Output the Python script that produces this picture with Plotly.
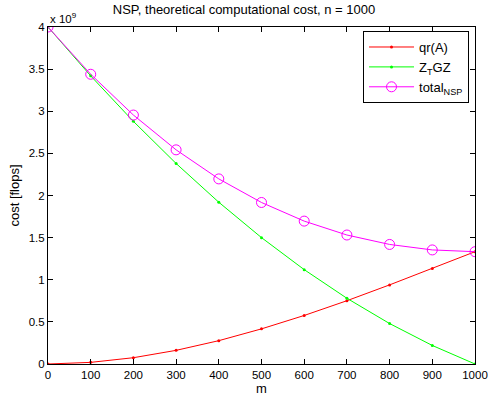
import plotly.graph_objects as go

m = [0, 100, 200, 300, 400, 500, 600, 700, 800, 900, 1000]
qr_cost = [0.0, 0.0193e9, 0.0747e9, 0.162e9, 0.277e9, 0.417e9, 0.576e9, 0.751e9, 0.939e9, 1.134e9, 1.333e9]
ztgz_cost = [4.0e9, 3.42e9, 2.88e9, 2.38e9, 1.92e9, 1.50e9, 1.12e9, 0.78e9, 0.48e9, 0.22e9, 0.0]
total_cost = [4.0e9, 3.439e9, 2.955e9, 2.542e9, 2.197e9, 1.917e9, 1.696e9, 1.531e9, 1.419e9, 1.354e9, 1.333e9]

yticks = [0, 0.5e9, 1e9, 1.5e9, 2e9, 2.5e9, 3e9, 3.5e9, 4e9]
yticklabels = ["0", "0.5", "1", "1.5", "2", "2.5", "3", "3.5", "4"]
xticks = [0, 100, 200, 300, 400, 500, 600, 700, 800, 900, 1000]

font = "Liberation Sans, Arial, Helvetica, sans-serif"

fig = go.Figure()
fig.add_trace(go.Scatter(x=m, y=qr_cost, mode="lines+markers", name="qr(A)",
                         line=dict(color="#ff0000", width=1),
                         marker=dict(color="#ff0000", size=3)))
fig.add_trace(go.Scatter(x=m, y=ztgz_cost, mode="lines+markers", name="Z<sub>T</sub>GZ",
                         line=dict(color="#00ff00", width=1),
                         marker=dict(color="#00ff00", size=3)))
fig.add_trace(go.Scatter(x=m, y=total_cost, mode="lines+markers", name="total<sub>NSP</sub>",
                         line=dict(color="#ff00ff", width=1),
                         marker=dict(symbol="circle-open", color="#ff00ff", size=10,
                                     line=dict(width=1, color="#ff00ff"))))

axis_common = dict(showline=True, linecolor="black", linewidth=1, mirror="ticks",
                   ticks="inside", ticklen=5, tickcolor="black", showgrid=False,
                   zeroline=False, automargin=False,
                   tickfont=dict(size=11.5, color="black", family=font))

fig.update_layout(
    width=488, height=397,
    margin=dict(l=48, r=13, t=27, b=33),
    paper_bgcolor="white", plot_bgcolor="white",
    font=dict(family=font, color="black", size=11.5),
    title=dict(text="NSP, theoretical computational cost, n = 1000", x=0.5, xanchor="center",
               y=0.975, yanchor="middle", automargin=False,
               font=dict(size=13, family=font, color="black")),
    xaxis=dict(range=[0, 1000], tickvals=xticks, title=dict(text="m", standoff=2, font=dict(size=13)),
               **axis_common),
    yaxis=dict(range=[0, 4e9], tickvals=yticks, ticktext=yticklabels,
               title=dict(text="cost [flops]", standoff=6, font=dict(size=13)),
               **axis_common),
    legend=dict(x=0.986, y=0.988, xanchor="right", yanchor="top", bgcolor="white",
                bordercolor="black", borderwidth=1, font=dict(size=13, family=font),
                tracegroupgap=2, itemwidth=45),
    showlegend=True,
)
fig.add_annotation(text="x 10<sup>9</sup>", xref="paper", yref="paper", x=0.0, y=1.0,
                   xanchor="left", yanchor="bottom", showarrow=False, yshift=0,
                   font=dict(size=11.5, family=font, color="black"))

fig.write_html("out.html")
